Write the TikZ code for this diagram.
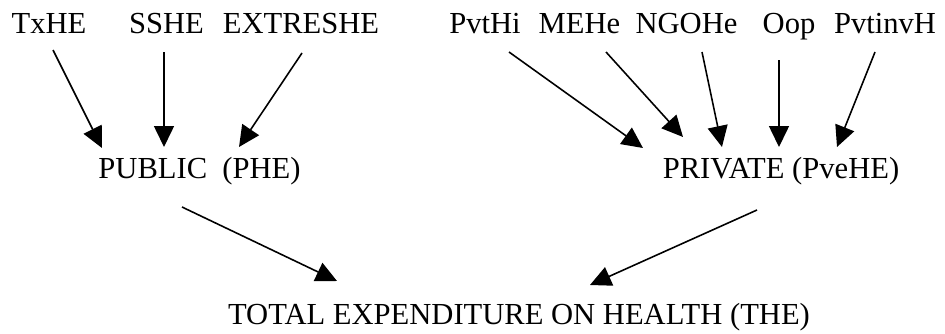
\documentclass[tikz,border=0pt]{standalone}
\usepackage{fontspec}
\setmainfont{Liberation Serif}
\usetikzlibrary{arrows.meta, calc}

\begin{document}
\begin{tikzpicture}[scale=1]
    % Define styles
    \tikzstyle{item_text}=[inner sep=0pt, anchor=base, font=\fontsize{17.4}{19}\selectfont]
    \tikzstyle{flow_arrow}=[line width=0.9pt, -{Triangle[length=0.42cm, width=0.40cm]}]

    \useasboundingbox (0,0) rectangle (18.9,6.66);

    % --- 1. Sources of funds (top row) ---
    \node[item_text] (txhe) at (0.98, 6.0) {TxHE};
    \node[item_text] (sshe) at (3.33, 6.0) {SSHE};
    \node[item_text] (extreshe) at (6.02, 6.0) {EXTRESHE};
    \node[item_text] (pvthi) at (9.70, 6.0) {PvtHi};
    \node[item_text] (mehe) at (11.59, 6.0) {MEHe};
    \node[item_text] (ngohe) at (13.73, 6.0) {NGOHe};
    \node[item_text] (oop) at (15.78, 6.0) {Oop};
    \node[item_text] (pvtinvh) at (17.70, 6.0) {PvtinvH};

    % --- 2. Public and private totals ---
    \node[item_text] (public) at (3.99, 3.1) {PUBLIC\ \ (PHE)};
    \node[item_text] (private) at (15.62, 3.1) {PRIVATE (PveHE)};

    % --- 3. Grand total ---
    \node[item_text] (the) at (10.38, 0.18) {TOTAL EXPENDITURE ON HEALTH (THE)};

    % --- 4. Arrow ends ---
    \coordinate (txhe-out) at (1.06, 5.66);
    \coordinate (sshe-out) at (3.28, 5.62);
    \coordinate (extreshe-out) at (6.04, 5.60);
    \coordinate (pvthi-out) at (10.18, 5.62);
    \coordinate (mehe-out) at (12.12, 5.62);
    \coordinate (ngohe-out) at (14.04, 5.62);
    \coordinate (oop-out) at (15.58, 5.46);
    \coordinate (pvtinvh-out) at (17.50, 5.62);
    \coordinate (public-in1) at (2.04, 3.70);
    \coordinate (public-in2) at (3.28, 3.72);
    \coordinate (public-in3) at (4.78, 3.72);
    \coordinate (private-in1) at (12.86, 3.70);
    \coordinate (private-in2) at (13.66, 3.92);
    \coordinate (private-in3) at (14.44, 3.72);
    \coordinate (private-in4) at (15.58, 3.72);
    \coordinate (private-in5) at (16.74, 3.72);
    \coordinate (public-out) at (3.64, 2.52);
    \coordinate (private-out) at (15.14, 2.46);
    \coordinate (the-in1) at (6.74, 1.04);
    \coordinate (the-in2) at (11.80, 0.96);

    % --- 5. Arrows ---
    \draw[flow_arrow] (txhe-out) -- (public-in1);
    \draw[flow_arrow] (sshe-out) -- (public-in2);
    \draw[flow_arrow] (extreshe-out) -- (public-in3);
    \draw[flow_arrow] (pvthi-out) -- (private-in1);
    \draw[flow_arrow] (mehe-out) -- (private-in2);
    \draw[flow_arrow] (ngohe-out) -- (private-in3);
    \draw[flow_arrow] (oop-out) -- (private-in4);
    \draw[flow_arrow] (pvtinvh-out) -- (private-in5);
    \draw[flow_arrow] (public-out) -- (the-in1);
    \draw[flow_arrow] (private-out) -- (the-in2);

\end{tikzpicture}
\end{document}
